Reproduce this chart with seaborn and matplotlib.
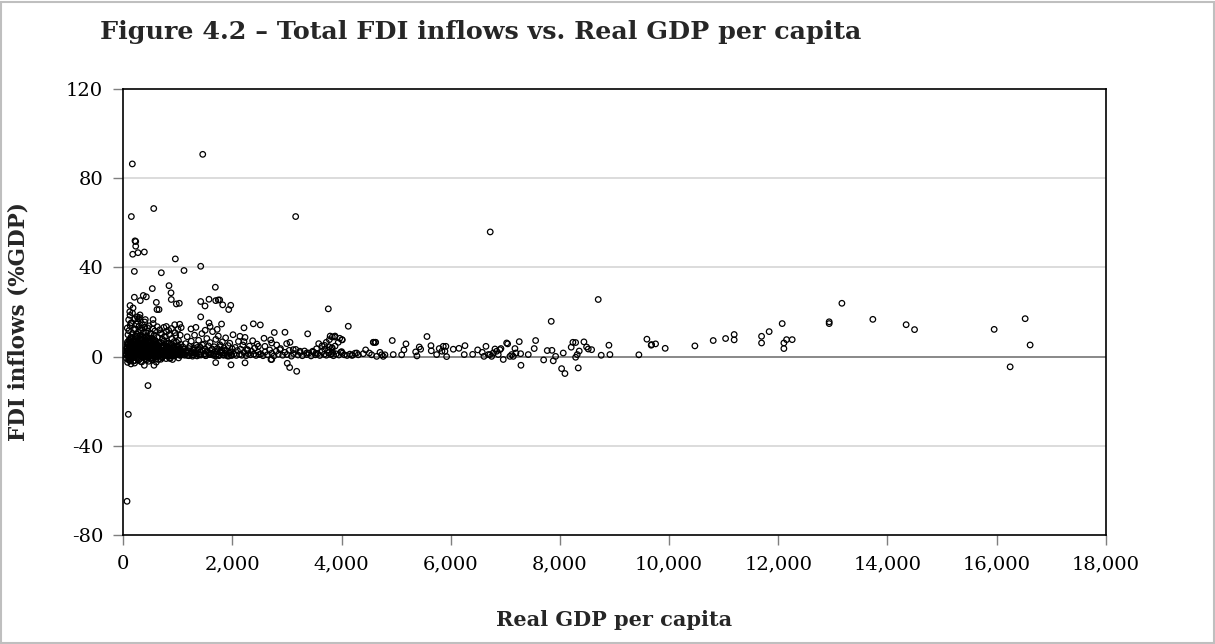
import numpy as np
import pandas as pd
import matplotlib
matplotlib.use("Agg")
import matplotlib.pyplot as plt
from matplotlib.ticker import FuncFormatter
from matplotlib.patches import Rectangle
import seaborn as sns

# ---------------------------------------------------------------
# Data: real GDP per capita (x) and total FDI inflows, % of GDP (y)
# ---------------------------------------------------------------

# Observations well away from the main band
outlier_gdp = [165, 1455, 147, 557, 3158, 214, 227, 227, 172, 269, 385, 953, 1418,
               202, 696, 1112, 837, 1686, 874, 531, 202, 366, 421, 311, 123, 605,
               617, 654, 879, 971, 1026, 1418, 1497, 1570, 1693, 1740, 1766, 1821,
               1931, 1968, 3756, 1418, 544, 403, 123, 214, 275, 256, 306, 942, 1033,
               1570, 2382, 2510, 4122, 788, 2211, 3378, 2962, 2766, 2578, 2700,
               6723, 8702, 7841]
outlier_fdi = [86.4, 90.7, 62.8, 66.4, 62.8, 51.9, 51.6, 49.5, 45.9, 46.6, 46.9, 43.8,
               40.5, 38.2, 37.6, 38.6, 31.8, 31.1, 28.6, 30.5, 26.6, 27.4, 26.8, 25.1,
               22.9, 24.3, 21.1, 21.1, 25.6, 23.6, 23.9, 24.7, 22.7, 25.7, 25.1, 25.4,
               25.4, 23.2, 21.1, 23.0, 21.4, 17.8, 16.6, 16.6, 18.5, 16.9, 16.9, 17.8,
               18.7, 14.3, 14.5, 15.1, 14.7, 14.2, 13.6, 13.5, 12.9, 10.2, 10.9, 10.8,
               8.2, 7.5, 55.9, 25.6, 15.8]

# Negative inflows
negative_gdp = [141, 385, 562, 452, 92, 68, 1693, 1973, 2230, 3004, 3048, 3177, 2706,
                2719, 7286, 7702, 7878, 8031, 8092, 8336, 16250, 78, 132, 206, 276,
                338, 408, 466, 528, 604, 688, 784, 902, 1012]
negative_fdi = [-3.3, -3.9, -3.9, -13.0, -25.9, -64.9, -2.7, -3.7, -2.8, -3.0, -4.9,
                -6.6, -1.3, -1.3, -3.9, -1.5, -1.9, -5.4, -7.6, -5.1, -4.6, -2.6, -1.9,
                -2.9, -1.6, -2.4, -1.0, -2.1, -1.5, -2.5, -1.2, -0.9, -1.3, -0.6]

# Low-income band (GDP per capita below about 1,100)
low_gdp = [55, 62, 70, 75, 80, 85, 90, 95, 100, 105, 110, 115, 120, 125, 130, 135, 140,
           145, 150, 155, 160, 165, 170, 175, 180, 185, 190, 195, 200, 205, 210, 215,
           220, 225, 230, 235, 240, 245, 250, 255, 260, 265, 270, 275, 280, 285, 290,
           295, 300, 305, 310, 315, 320, 325, 330, 335, 340, 345, 350, 355, 360, 365,
           370, 375, 380, 385, 390, 395, 400, 405, 410, 415, 420, 425, 430, 435, 440,
           445, 450, 455, 460, 465, 470, 475, 480, 485, 490, 495, 500, 505, 510, 515,
           520, 525, 530, 535, 540, 545, 550, 555, 560, 565, 570, 575, 580, 585, 590,
           595, 600, 610, 620, 630, 640, 650, 660, 670, 680, 690, 700, 710, 720, 730,
           740, 750, 760, 770, 780, 790, 800, 810, 820, 830, 840, 850, 860, 870, 880,
           890, 900, 910, 920, 930, 940, 950, 960, 970, 980, 990, 1000, 1010, 1020,
           1030, 1040, 1050, 1060, 1070, 1080, 1090, 1100,
           65, 88, 112, 128, 142, 158, 172, 188, 198, 212, 228, 238, 252, 268, 282,
           298, 312, 328, 342, 358, 372, 388, 402, 418, 432, 448, 462, 478, 492, 508,
           522, 538, 552, 568, 582, 598, 615, 635, 655, 675, 695, 715, 735, 755, 775,
           795, 815, 835, 855, 875, 895, 915, 935, 955, 975, 995, 1015, 1035, 1055, 1075,
           72, 98, 118, 138, 168, 178, 222, 262, 288, 318, 352, 392, 412, 442, 472, 512,
           548, 578, 622, 668, 702, 742, 788, 842, 882, 948, 1002, 1042,
           108, 148, 182, 232, 258, 292, 322, 348, 378, 398, 428, 458, 488, 518, 545,
           572, 608, 645, 685, 725, 765, 805, 845, 885, 925, 965,
           58, 66, 74, 82, 92, 102, 114, 124, 134, 146, 156, 166, 176, 186, 196, 208,
           218, 232, 244, 256, 266, 278, 290, 302, 314, 326, 338, 350, 362, 374, 386,
           398, 410, 422, 434, 446, 458, 470, 482, 494, 506, 518, 530, 542, 554, 566,
           578, 590, 602, 616, 632, 648, 664, 680, 696, 712, 728, 744, 760, 776, 792,
           808, 824, 840, 858, 876, 894, 912, 930, 950, 970, 990,
           60, 78, 96, 116, 136, 152, 164, 184, 202, 218, 236, 254, 272, 292, 308, 324,
           344, 364, 382, 400, 420, 438, 456, 476, 496, 516, 534, 556, 576, 596, 618,
           642, 666, 692, 718, 748, 778, 810, 846, 880]
low_fdi = [0.8, 2.4, 4.1, 6.5, 1.5, 9.8, 3.2, 0.2, 11.6, 5.1, -1.2, 7.4, 2.2, 13.9, 0.6,
           4.8, 8.7, 1.9, 15.2, 3.6, -0.4, 6.2, 10.4, 2.8, 0.9, 5.5, 12.1, 3.9, 1.3, 7.9,
           -1.8, 4.4, 9.3, 2.1, 0.4, 6.8, 14.6, 3.3, 1.1, 8.2, 5.0, -0.9, 2.7, 11.0, 4.0,
           0.7, 6.1, 17.5, 3.0, 1.6, 9.6, 5.3, -2.2, 2.5, 7.0, 12.8, 0.3, 4.6, 2.0, 8.9,
           1.2, 5.7, 10.9, 3.4, -0.2, 6.6, 2.3, 13.2, 4.2, 0.8, 7.6, 1.7, 3.8, 9.1, -1.4,
           5.2, 2.9, 11.4, 0.5, 6.3, 1.9, 4.1, 8.4, 2.6, 0.1, 5.9, 3.5, 10.2, 1.4, 7.1,
           -0.7, 4.7, 2.2, 8.0, 0.9, 5.6, 12.5, 3.1, 1.0, 6.9, 2.4, 9.7, 0.2, 4.3, 1.8,
           7.3, 3.6, -1.1, 5.4, 2.0, 8.6, 1.1, 4.9, 0.4, 6.4, 2.7, 10.6, 1.5, 3.9, -0.5,
           7.7, 2.1, 5.1, 0.8, 3.2, 9.0, 1.3, 4.5, 0.6, 6.0, 2.5, 11.8, 1.0, 3.7, -0.8,
           5.8, 2.3, 8.1, 0.7, 4.0, 1.6, 6.7, 0.3, 3.3, 9.4, 1.2, 4.8, 0.9, 2.6, 7.2,
           1.4, 3.5, 0.5, 5.5, 13.0, 2.0, 0.8, 4.4, 1.7,
           3.6, 5.9, 1.4, 8.0, 2.9, 4.2, 0.1, 7.0, 2.0, 5.7, 1.0, 3.7, 10.0, 0.5, 6.4,
           2.2, 4.9, 0.8, 7.8, 3.1, 1.5, 5.0, 8.8, 2.4, 0.6, 4.3, 6.9, 1.9, 3.4, 0.4,
           5.9, 2.5, 4.1, 7.4, 0.9, 3.0, 5.6, 1.7, 3.9, 0.7, 6.2, 2.3, 4.6, 1.2, 3.5,
           7.0, 1.8, 4.2, 0.5, 2.9, 5.3, 1.1, 3.8, 0.6, 6.5, 2.2, 4.5, 0.9, 3.0, 1.5,
           12.8, 16.5, 20.1, 14.9, 19.5, 21.8, 12.3, 15.8, 13.6, 11.9, 14.2, 15.5, 10.8,
           12.9, 13.8, 10.3, 14.8, 11.5, 13.4, 12.0, 10.1, 13.1, 11.1, 9.9, 12.6, 10.7,
           12.2, 9.6,
           1.0, 2.7, 4.6, 3.0, 6.0, 1.8, 3.3, 5.1, 2.6, 0.9, 4.4, 2.1, 6.3, 1.3, 3.9,
           0.7, 5.2, 2.8, 1.6, 4.0, 0.8, 3.4, 1.9, 2.4, 1.0, 3.2,
           1.1, 3.8, 5.4, 0.2, 2.9, 7.2, 4.0, 1.6, 6.1, 0.6, 3.3, 8.6, 2.0, 5.0, 0.3,
           3.9, 6.7, 1.5, 4.6, 9.2, 2.5, 0.9, 5.8, 3.2, 1.0, 7.5, 4.1, 0.5, 2.7, 6.0,
           1.8, 3.6, 0.1, 5.3, 8.0, 2.2, 4.4, 1.2, 6.6, 3.0, 0.7, 4.9, 2.1, 7.9, 0.4,
           3.5, 5.7, 1.4, 2.8, 0.8, 4.5, 6.2, 1.9, 3.1, 0.2, 5.0, 2.4, 7.0, 1.0, 3.7,
           0.6, 4.3, 2.6, 5.9, 1.3, 3.4, 0.3, 2.0, 4.7, 1.5, 3.0, 0.9,
           -0.8, 2.2, -1.5, 4.7, 0.4, -0.3, 3.0, -1.9, 6.4, 1.1, -0.6, 2.9, 5.5, -1.2,
           0.7, 3.7, -0.2, 8.3, 1.6, -1.0, 4.0, 0.2, -0.5, 2.5, 6.9, -0.9, 1.4, 3.3,
           -0.4, 5.0, 0.6, -1.3, 2.1, 4.2, -0.1, 1.2, 3.6, 0.3, -0.7, 2.4]

# Lower-middle band (about 1,100 to 5,000)
mid_gdp = [1110, 1125, 1140, 1155, 1170, 1185, 1200, 1215, 1230, 1245, 1260, 1275, 1290,
           1305, 1320, 1335, 1350, 1365, 1380, 1395, 1410, 1425, 1440, 1455, 1470, 1485,
           1500, 1515, 1530, 1545, 1560, 1575, 1590, 1605, 1620, 1635, 1650, 1665, 1680,
           1695, 1710, 1725, 1740, 1755, 1770, 1785, 1800, 1815, 1830, 1845, 1860, 1875,
           1890, 1905, 1920, 1935, 1950, 1965, 1980, 1995, 2010, 2030, 2050, 2070, 2090,
           2110, 2130, 2150, 2170, 2190, 2210, 2230, 2250, 2270, 2290, 2310, 2330, 2350,
           2370, 2390, 2410, 2430, 2450, 2470, 2490,
           1240, 1330, 1500, 1590, 1720, 1800, 2211, 2137, 2277, 2474, 2595, 2719, 2810,
           2993, 3054, 2870, 3114, 3237, 3359,
           3790, 3880, 3775, 3965, 4005, 3720, 3690, 3770, 3820, 3880, 3985, 3835, 3760,
           3690, 3640, 3580, 3540, 3470, 3530,
           2520, 2560, 2600, 2640, 2680, 2720, 2760, 2800, 2840, 2880, 2920, 2960, 3000,
           3040, 3080, 3120, 3160, 3200, 3240, 3280, 3320, 3360, 3400, 3440, 3480, 3520,
           3560, 3600, 3640, 3680, 3720, 3760, 3800, 3850, 3900, 3950, 4050, 4100, 4150,
           4200,
           3829, 3872, 3939, 4012, 3829, 3817, 4000, 4012, 4184, 4245, 4276, 4306, 4397,
           4440, 4507, 4550, 4587, 4624, 4642, 4703, 4734, 4763, 4794, 4928, 4946, 4580,
           4617,
           1118, 1148, 1178, 1208, 1238, 1268, 1298, 1328, 1358, 1388, 1418, 1448, 1478,
           1508, 1538, 1568, 1598, 1628, 1658, 1688, 1718, 1748, 1778, 1808, 1838, 1868,
           1898, 1928, 1958, 1988]
mid_fdi = [3.2, 0.6, 5.8, 1.9, 8.9, 2.7, 0.4, 4.6, 1.3, 6.9, 2.2, 0.8, 3.9, 9.6, 1.6,
           5.1, 0.3, 2.9, 7.3, 1.0, 4.2, 0.7, 10.3, 2.5, 5.6, 1.2, 3.4, 0.5, 8.1, 2.0,
           4.8, 0.9, 6.3, 1.5, 3.1, 11.2, 0.6, 4.4, 2.3, 7.7, 1.1, 3.6, 9.2, 0.4, 5.3,
           1.8, 2.8, 6.6, 0.8, 3.9, 1.4, 8.4, 2.6, 0.3, 4.9, 1.7, 6.0, 2.2, 0.7, 3.5,
           9.8, 1.2, 4.1, 0.5, 2.7, 6.8, 1.0, 3.3, 0.6, 5.2, 1.9, 8.6, 0.4, 3.0, 1.3,
           4.7, 0.8, 2.4, 7.1, 1.1, 3.8, 0.5, 5.6, 2.0, 0.9,
           12.4, 13.1, 11.8, 13.5, 12.2, 14.6, 6.7, 9.1, 3.1, 4.6, 4.6, 6.1, 5.2, 5.8,
           6.4, 3.1, 3.1, 2.4, 1.6,
           9.2, 9.2, 7.6, 8.2, 7.6, 6.4, 5.0, 4.4, 3.8, 4.7, 2.0, 2.0, 2.9, 3.3, 4.8,
           5.8, 3.5, 2.4, 1.5,
           1.2, 0.4, 2.1, 0.8, 3.0, 1.5, 0.3, 2.4, 1.0, 3.6, 0.6, 1.9, 0.9, 2.8, 0.2,
           1.4, 3.2, 0.7, 1.8, 0.4, 2.5, 0.9, 1.6, 0.3, 2.0, 0.8, 1.3, 0.5, 2.2, 1.0,
           0.6, 1.7, 0.9, 0.4, 1.2, 0.7, 0.8, 0.5, 1.1, 0.6,
           8.8, 8.8, 6.4, 7.5, 3.9, 1.3, 2.2, 1.5, 0.6, 1.5, 1.6, 0.8, 1.3, 3.0, 1.6,
           0.8, 6.4, 6.4, 0.1, 1.9, 0.8, 0.1, 0.8, 7.2, 0.9, 6.4, 6.4,
           1.0, 2.4, 0.5, 3.6, 1.8, 0.2, 2.9, 1.3, 4.1, 0.7, 2.0, 5.2, 1.1, 0.4, 2.6,
           1.6, 0.9, 3.4, 1.2, 0.3, 2.2, 0.8, 4.5, 1.5, 0.6, 2.8, 1.0, 0.2, 1.9, 0.5]

# Upper-middle and high-income band (above about 5,000)
high_gdp = [5100, 5142, 5179, 5357, 5380, 5423, 5448, 5564, 5637, 5643, 5741, 5789, 5862,
            5911, 5838, 5893, 5924, 6046, 6150, 6260, 6247, 6401, 6493, 6577, 6645, 6608,
            6687, 6718, 6749, 6778, 6810, 6841, 6870, 6901, 6919, 6962, 7024, 7042, 7084,
            7116, 7145, 7176, 7194, 7255, 7280, 7420, 7529, 7555, 7768, 7854, 7921, 8061,
            8207, 8238, 8288, 8288, 8317, 8354, 8440, 8489, 8519, 8581, 8757, 8898, 8916,
            9447, 9594, 9673, 9753, 9929, 9680, 10473, 10809, 11036, 11193, 11193, 11695,
            11695, 11834, 12073, 12104, 12104, 12153, 12256, 12934, 12934, 13167, 13734,
            14344, 14498, 15957, 16525, 16616]
high_fdi = [0.8, 3.0, 5.7, 2.1, 0.3, 4.3, 3.3, 9.0, 4.9, 2.6, 0.9, 3.6, 4.6, 4.6, 2.4,
            2.4, 0.0, 3.3, 3.7, 4.9, 0.9, 1.0, 3.0, 1.9, 4.6, 0.1, 0.9, 0.9, 0.1, 1.6,
            3.4, 2.4, 0.9, 3.1, 3.6, -1.3, 6.1, 5.7, 0.1, 0.9, 0.1, 3.6, 1.6, 6.7, 1.3,
            0.9, 3.6, 7.2, 2.7, 2.8, 0.1, 1.6, 4.2, 6.4, 6.3, -0.3, 0.9, 2.5, 6.6, 4.3,
            3.4, 3.1, 0.6, 5.1, 0.9, 0.8, 7.8, 5.1, 5.7, 3.7, 5.4, 4.8, 7.2, 8.1, 9.9,
            7.5, 9.1, 6.1, 11.2, 14.8, 6.1, 3.6, 7.6, 7.6, 15.6, 14.8, 23.9, 16.7, 14.3,
            12.1, 12.2, 17.0, 5.2]

df = pd.DataFrame({
    "gdp": outlier_gdp + negative_gdp + low_gdp + mid_gdp + high_gdp,
    "fdi": outlier_fdi + negative_fdi + low_fdi + mid_fdi + high_fdi,
})

# Axis ticks
x_ticks = list(range(0, 18001, 2000))
y_ticks = [-80, -40, 0, 40, 80, 120]

title_text = "Figure 4.2 \u2013 Total FDI inflows vs. Real GDP per capita"
x_label = "Real GDP per capita"
y_label = "FDI inflows (%GDP)"

# ---------------------------------------------------------------
# Figure
# ---------------------------------------------------------------
sns.set_theme(style="white")
plt.rcParams["font.family"] = ["DejaVu Serif"]

fig = plt.figure(figsize=(12.15, 6.44), dpi=100)
ax = fig.add_axes([0.1015, 0.1693, 0.8085, 0.6925])

# light horizontal gridlines and a darker zero line
for yv in y_ticks:
    if yv == 0:
        ax.axhline(yv, color="#7f7f7f", linewidth=1.3, zorder=1)
    elif yv not in (-80, 120):
        ax.axhline(yv, color="#d9d9d9", linewidth=1.3, zorder=1)

sns.scatterplot(data=df, x="gdp", y="fdi", ax=ax, marker="o", s=16,
                facecolor="none", edgecolor="black", linewidth=0.9,
                legend=False, zorder=3)

ax.set_xlim(0, 18000)
ax.set_ylim(-80, 120)
ax.set_xticks(x_ticks)
ax.set_yticks(y_ticks)
ax.xaxis.set_major_formatter(FuncFormatter(lambda v, p: f"{int(v):,}"))
ax.yaxis.set_major_formatter(FuncFormatter(lambda v, p: f"{int(v)}"))

for side in ["left", "right", "top", "bottom"]:
    ax.spines[side].set_visible(True)
    ax.spines[side].set_color("black")
    ax.spines[side].set_linewidth(1.2)

ax.tick_params(axis="both", which="major", direction="out", length=7.5, width=1.0,
               color="#7f7f7f", labelsize=14, pad=7, labelcolor="black",
               left=True, bottom=True, right=False, top=False)

ax.set_xlabel("")
ax.set_ylabel("")
ax.text(0.5, -0.19, x_label, transform=ax.transAxes, ha="center", va="center",
        fontsize=15, fontweight="bold")
ax.text(-0.107, 0.478, y_label, transform=ax.transAxes, ha="center", va="center",
        rotation=90, fontsize=15.5, fontweight="bold")

fig.text(100 / 1215, 1 - 32 / 644, title_text, ha="left", va="center",
         fontsize=18.3, fontweight="bold")

# thin grey frame around the whole figure
fig.patches.append(Rectangle((0.001, 0.002), 0.998, 0.995, transform=fig.transFigure,
                             fill=False, edgecolor="#bfbfbf", linewidth=1.5))

fig.savefig("out.png", dpi=100)
